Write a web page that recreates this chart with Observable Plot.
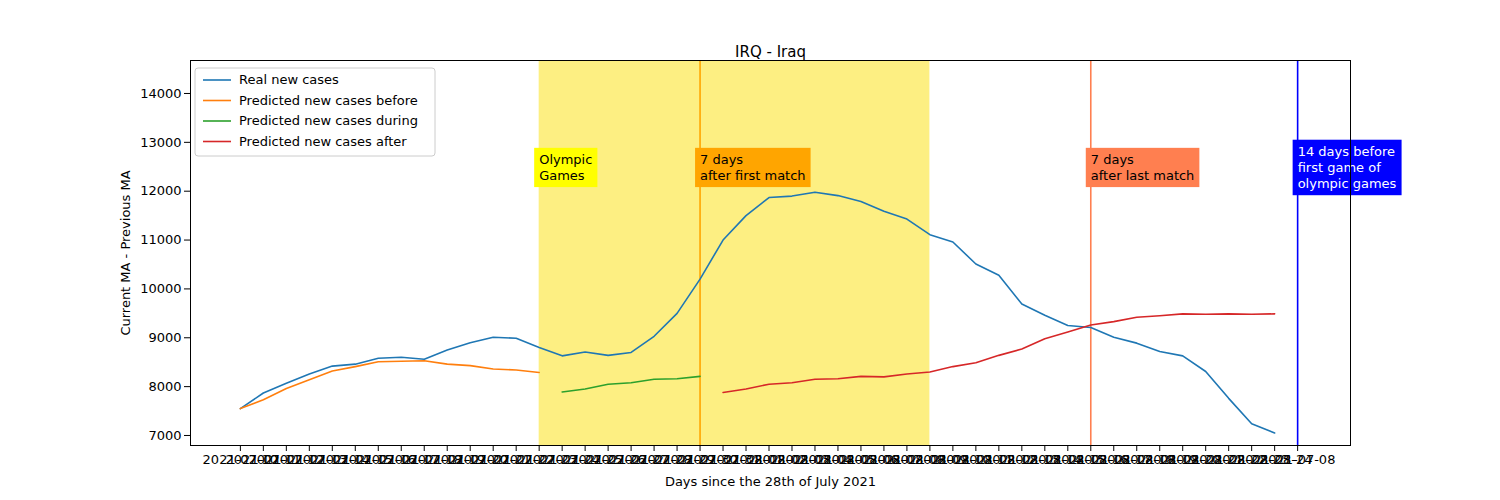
<!DOCTYPE html>
<html><head><meta charset="utf-8">
<script src="https://cdn.jsdelivr.net/npm/d3@7"></script>
<script src="https://cdn.jsdelivr.net/npm/@observablehq/plot@0.6"></script>
<style>body{margin:0;background:#fff;font-family:"DejaVu Sans",sans-serif}</style>
</head><body><div id="c"></div>
<script>
const dates = [];
{ const d0 = new Date(Date.UTC(2021,6,10)); for (let i=0;i<46;i++){ const d=new Date(d0.getTime()+i*864e5); dates.push(d.toISOString().slice(0,10)); } }
dates.push("2021-07-08");
const real = [7550,7870,8070,8260,8420,8460,8580,8600,8560,8750,8900,9010,8990,8800,8630,8710,8640,8700,9030,9500,10200,11000,11500,11870,11900,11980,11910,11790,11590,11430,11110,10960,10510,10280,9690,9460,9250,9210,9010,8890,8720,8630,8310,7760,7240,7050];
const before = [7550,7730,7960,8140,8320,8410,8510,8520,8530,8460,8430,8360,8340,8290];
const during = [7890,7950,8050,8080,8150,8160,8210];
const after = [7880,7950,8050,8080,8150,8160,8210,8200,8260,8300,8410,8490,8640,8770,8980,9120,9260,9330,9420,9450,9490,9480,9490,9480,9490];
const olympicStart = "2021-07-23", olympicEnd = "2021-08-09";
const vlines = [
 {date:"2021-07-30", color:"orange", label:"7 days\nafter first match", bg:"orange", fg:"black"},
 {date:"2021-08-16", color:"coral", label:"7 days\nafter last match", bg:"coral", fg:"black"},
 {date:"2021-07-08", color:"blue", label:"14 days before\nfirst game of\nolympic games", bg:"blue", fg:"white"}
];
const seriesNames = ["Real new cases","Predicted new cases before","Predicted new cases during","Predicted new cases after"];
const colors = ["#1f77b4","#ff7f0e","#2ca02c","#d62728"];

const idx = d => dates.indexOf(d);
const rows = [];
real.forEach((v,i)=>rows.push({s:0,i,v}));
before.forEach((v,i)=>rows.push({s:1,i,v}));
during.forEach((v,i)=>rows.push({s:2,i:i+before.length,v}));
after.forEach((v,i)=>rows.push({s:3,i:i+before.length+during.length,v}));
const labels = [{i:idx(olympicStart),t:"Olympic\nGames",bg:"yellow",fg:"black"}, ...vlines.map(l=>({i:idx(l.date),t:l.label,bg:l.bg,fg:l.fg}))];

const plot = Plot.plot({
  width:1500, height:500, marginLeft:190, marginRight:150, marginTop:60, marginBottom:55,
  style:{fontFamily:"DejaVu Sans", fontSize:"13px"},
  x:{type:"linear", domain:[-2.17,48.3], ticks:d3.range(dates.length), tickFormat:i=>dates[i], label:"Days since the 28th of July 2021", labelAnchor:"center", labelOffset:40, tickSize:6, labelArrow:false},
  y:{domain:[6795,14675], ticks:d3.range(7000,14001,1000), tickFormat:d=>String(d), label:"Current MA - Previous MA", labelAnchor:"center", labelOffset:70, tickSize:6, labelArrow:false},
  marks:[
    Plot.rectX([0],{x1:idx(olympicStart), x2:idx(olympicEnd), fill:"#fdef82"}),
    Plot.ruleX(vlines,{x:d=>idx(d.date), stroke:"color", strokeWidth:1.6}),
    Plot.line(rows,{x:"i", y:"v", z:"s", stroke:d=>colors[d.s], strokeWidth:1.6}),
    Plot.text(labels,{x:"i", y:12500, text:"t", textAnchor:"start", dx:0, fill:"fg", lineHeight:1.25, className:"ann", fontSize:13}),
    Plot.frame(),
    Plot.text(["IRQ - Iraq"],{frameAnchor:"top", dy:-14, fontSize:15, fill:"black"})
  ]
});
document.getElementById("c").appendChild(plot);
const svg = d3.select(plot);
const annG = svg.selectAll("g").filter(function(){ const c=this.getAttribute("class"); return c && c.includes("ann"); });
annG.selectAll("text").each(function(d){
  const b=this.getBBox(); const lab=labels[d];
  const r = d3.select(this.parentNode).insert("rect",()=>this).attr("x",b.x-5).attr("y",b.y-4).attr("width",b.width+10).attr("height",b.height+8).attr("fill",lab.bg);
  const t=this.getAttribute("transform"); if(t) r.attr("transform",t);
});
// legend
const lg = svg.append("g").attr("transform","translate(195,68)");
lg.append("rect").attr("width",240).attr("height",88).attr("rx",3).attr("fill","white").attr("fill-opacity",0.85).attr("stroke","#ccc");
seriesNames.forEach((n,k)=>{
  lg.append("line").attr("x1",8).attr("x2",36).attr("y1",12+k*20.5).attr("y2",12+k*20.5).attr("stroke",colors[k]).attr("stroke-width",1.6);
  lg.append("text").attr("x",44).attr("y",16+k*20.5).attr("text-anchor","start").attr("font-size",13).attr("font-family","DejaVu Sans").text(n);
});
</script></body></html>
